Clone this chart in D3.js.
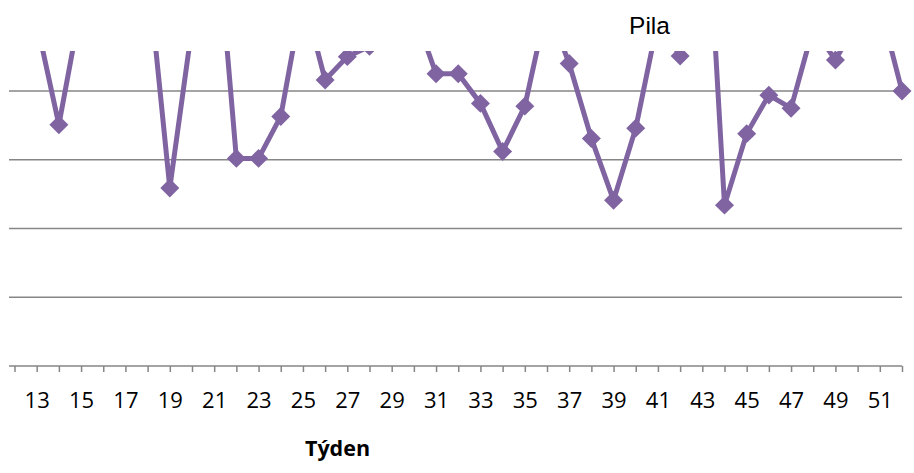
<!DOCTYPE html>
<html>
<head>
<meta charset="utf-8">
<script src="https://cdn.jsdelivr.net/npm/d3@7/dist/d3.min.js"></script>
<style>
  html, body { margin: 0; padding: 0; background: #ffffff; }
  svg { display: block; }
</style>
</head>
<body>
<svg id="chart" width="914" height="473"></svg>
<script>
// ---- data ----
const weeks = [12,13,14,15,16,17,18,19,20,21,22,23,24,25,26,27,28,29,30,31,32,
               33,34,35,36,37,38,39,40,41,42,43,44,45,46,47,48,49,50,51,52];
const values = [52, 50.0, 35.1, 52.5, 55, 54, 57.9, 25.9, 49.3, 68.2, 30.2, 30.2, 36.3, 54.0, 41.6,
                45.0, 46.5, 52, 51.6, 42.5, 42.5, 38.2, 31.2, 37.8, 52.5, 44.0, 33.1, 24.1, 34.6,
                50.3, 45.1, 79.4, 23.4, 33.8, 39.4, 37.5, 49.2, 44.5, 50.3, 52.5, 40.0];
const yTicks = [0, 10, 20, 30, 40];
const xLabelWeeks = [13,15,17,19,21,23,25,27,29,31,33,35,37,39,41,43,45,47,49,51];
const seriesName = "Pila";
const xTitle = "Týden";

// ---- layout ----
const svg = d3.select("#chart");
const plotLeft = 9, plotRight = 902, plotTop = 51, plotBottom = 366;
const color = "#8064A2";
const gridColor = "#868686";

const x = d3.scaleLinear().domain([12, 52]).range([14.5, 902]);
const y = d3.scaleLinear().domain([0, 40]).range([plotBottom, 91]);

// gridlines
svg.append("g").selectAll("line")
  .data(yTicks.filter(d => d > 0))
  .join("line")
  .attr("x1", plotLeft).attr("x2", plotRight)
  .attr("y1", d => y(d)).attr("y2", d => y(d))
  .attr("stroke", gridColor).attr("stroke-width", 1.5);

// x axis
const xAxis = d3.axisBottom(x)
  .tickValues(weeks)
  .tickSize(6)
  .tickSizeOuter(0)
  .tickFormat(d => xLabelWeeks.includes(d) ? String(d) : "");
const gx = svg.append("g").attr("transform", `translate(0,${plotBottom})`).call(xAxis);
gx.select(".domain").remove();
gx.selectAll(".tick line").attr("stroke", gridColor).attr("stroke-width", 1.5);
gx.selectAll(".tick text")
  .attr("y", 0).attr("dy", 0)
  .attr("transform", "translate(0,42)")
  .attr("fill", "#000")
  .style("font-family", "'Open Sans', sans-serif")
  .style("font-size", "22px");
svg.append("line")
  .attr("x1", plotLeft).attr("x2", plotRight)
  .attr("y1", plotBottom).attr("y2", plotBottom)
  .attr("stroke", gridColor).attr("stroke-width", 1.5);

// clip
svg.append("clipPath").attr("id", "clip")
  .append("rect")
  .attr("x", 0).attr("y", plotTop)
  .attr("width", 914).attr("height", plotBottom - plotTop + 20);

const data = weeks.map((w, i) => ({w, v: values[i]}));
const g = svg.append("g").attr("clip-path", "url(#clip)");

const line = d3.line().x(d => x(d.w)).y(d => y(d.v));
g.append("path")
  .datum(data)
  .attr("d", line)
  .attr("fill", "none")
  .attr("stroke", color)
  .attr("stroke-width", 5)
  .attr("stroke-linejoin", "round");

const diamond = d3.symbol().type(d3.symbolDiamond2).size(230);
g.selectAll("path.marker")
  .data(data)
  .join("path")
  .attr("class", "marker")
  .attr("d", diamond)
  .attr("transform", d => `translate(${x(d.w)},${y(d.v)})`)
  .attr("fill", color);

// title / legend text
svg.append("text")
  .attr("x", 649.5).attr("y", 34)
  .attr("text-anchor", "middle")
  .style("font-family", "'Liberation Sans', Arial, sans-serif")
  .style("font-size", "24.5px")
  .attr("fill", "#000")
  .text(seriesName);

// axis title
svg.append("text")
  .attr("x", 337.5).attr("y", 456)
  .attr("text-anchor", "middle")
  .style("font-family", "'Open Sans', sans-serif")
  .style("font-weight", "bold")
  .style("font-size", "21.5px")
  .attr("fill", "#000")
  .text(xTitle);
</script>
</body>
</html>
